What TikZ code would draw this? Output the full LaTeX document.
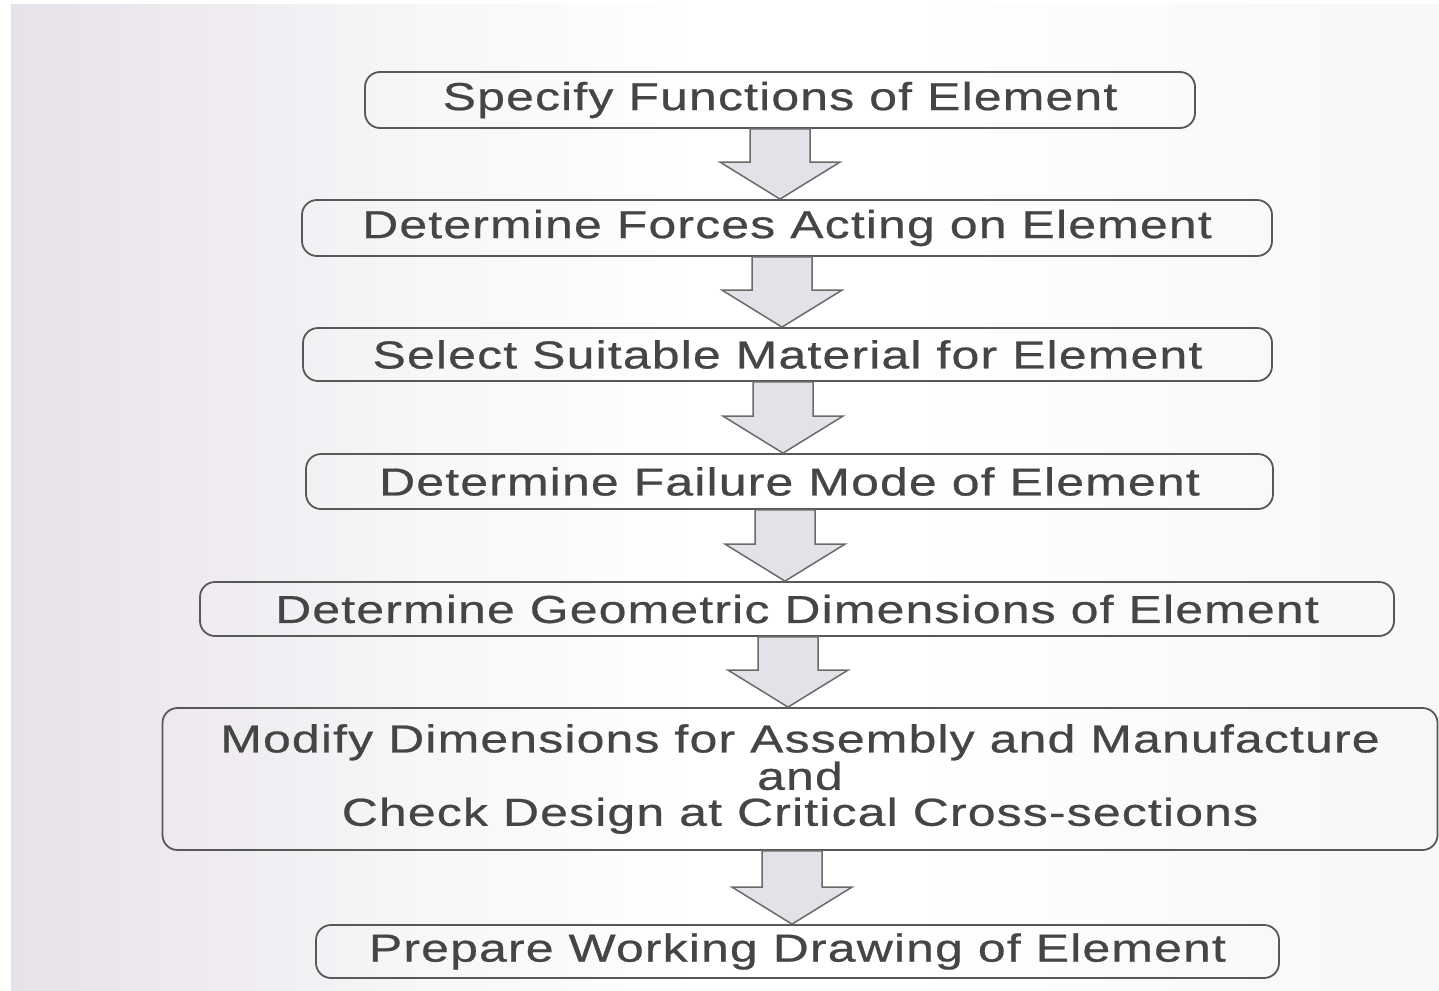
\documentclass[tikz,border=0pt]{standalone}
\usepackage{fontspec}
\setmainfont{Liberation Sans}[FakeStretch=1.28,LetterSpace=3,FakeBold=0.6]
\usetikzlibrary{calc}
\definecolor{bgl}{HTML}{E7E1E9}
\definecolor{bgm}{HTML}{F7F6F8}
\definecolor{boxline}{HTML}{585858}
\definecolor{txt}{HTML}{454545}
\definecolor{arrfill}{HTML}{E4E2E8}
\definecolor{arrline}{HTML}{6A6A6A}
\newcommand\blockarr[3]{%
  \draw[arrsty] let \p1=(#1.south), \p2=(#2.north) in
    (#3pt-30pt,\y1) -- (#3pt-30pt,\y2+37pt) -- (#3pt-60pt,\y2+37pt) -- (#3pt,\y2)
    -- (#3pt+60pt,\y2+37pt) -- (#3pt+30pt,\y2+37pt) -- (#3pt+30pt,\y1) -- cycle;}
\begin{document}
\begin{tikzpicture}[x=1pt,y=-1pt,
  stepbox/.style={draw=boxline,line width=1.8pt,rounded corners=15pt,
    inner sep=0pt,align=center,text=txt,font=\fontsize{39}{36}\selectfont},
  arrsty/.style={draw=arrline,fill=arrfill,line width=1.5pt,line join=miter}]
\useasboundingbox (0,0) rectangle (1439,990);
\fill[white] (0,0) rectangle (1439,990);
\shade[left color=bgl,right color=bgm] (11,5) rectangle (420,990);
\shade[left color=bgm,right color=white] (420,5) rectangle (700,990);
\shade[left color=white,right color=bgm] (900,5) rectangle (1439,990);
\fill[white] (700,5) rectangle (900,990);
\node[stepbox,minimum width=830pt,minimum height=56pt] (b1) at (780,100) {Specify Functions of Element};
\node[stepbox,minimum width=970pt,minimum height=56pt] (b2) at (787,228) {Determine Forces Acting on Element};
\node[stepbox,minimum width=969pt,minimum height=53pt] (b3) at (787.5,354.5) {Select Suitable Material for Element};
\node[stepbox,minimum width=967pt,minimum height=55pt] (b4) at (789.5,481.5) {Determine Failure Mode of Element};
\node[stepbox,minimum width=1194pt,minimum height=54pt] (b5) at (797,609) {Determine Geometric Dimensions of Element};
\node[stepbox,minimum width=1275pt,minimum height=142pt] (b6) at (800,779) {\rule{0pt}{8pt}Modify Dimensions for Assembly and Manufacture\\and\\Check Design at Critical Cross-sections};
\node[stepbox,minimum width=963pt,minimum height=53pt] (b7) at (797.5,951.5) {Prepare Working Drawing of Element};
\blockarr{b1}{b2}{780}
\blockarr{b2}{b3}{782}
\blockarr{b3}{b4}{783}
\blockarr{b4}{b5}{785}
\blockarr{b5}{b6}{788}
\blockarr{b6}{b7}{792}
\end{tikzpicture}
\end{document}
